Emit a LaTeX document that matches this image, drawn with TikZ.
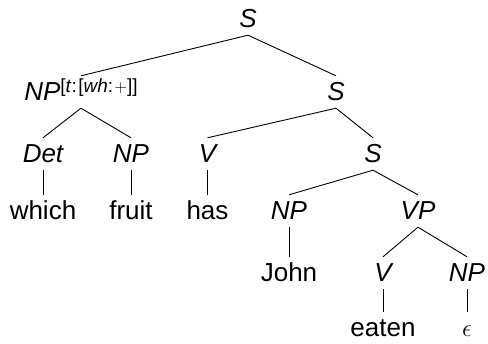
\documentclass[tikz,border=0pt]{standalone}
\usepackage{fontspec}
\setmainfont{Liberation Sans}
\begin{document}
\begin{tikzpicture}[x=1pt,y=-1pt,
  cat/.style={font=\fontsize{26}{30}\selectfont\itshape, anchor=base,
    text height=18pt, text depth=0pt, inner xsep=0pt, inner ysep=7pt},
  word/.style={cat, font=\fontsize{26}{30}\selectfont\upshape},
  edge/.style={draw, line width=0.9pt}]
\useasboundingbox (0,0) rectangle (488,344);

% categories and words, placed by baseline
\node[cat] (s0) at (248,28) {S};
\node[cat] (np1) at (81,101) {NP\raisebox{8pt}{\fontsize{19}{22}\selectfont\upshape[\textit{t}:\kern1.5pt[\textit{wh}:\kern1.5pt$+$]]}};
\node[cat] (s1) at (336,101) {S};
\node[cat] (det) at (43,163) {Det};
\node[cat] (np2) at (131,163) {NP};
\node[cat] (v2) at (207.5,163) {V};
\node[cat] (s2) at (373,163) {S};
\node[word] (which) at (43,220) {which};
\node[word] (fruit) at (131,220) {fruit};
\node[word] (has) at (207.5,220) {has};
\node[cat] (np3) at (289,220) {NP};
\node[cat] (vp) at (418,220) {VP};
\node[word] (john) at (289,282) {John};
\node[cat] (v3) at (383,282) {V};
\node[cat] (np4) at (467,282) {NP};
\node[word] (eaten) at (383,337) {eaten};
\node[word] (eps) at (467,337) {$\epsilon$};

% branches
\draw[edge] (s0.south) -- (np1.north);
\draw[edge] (s0.south) -- (s1.north);
\draw[edge] (np1.south) -- (det.north);
\draw[edge] (np1.south) -- (np2.north);
\draw[edge] (s1.south) -- (v2.north);
\draw[edge] (s1.south) -- (s2.north);
\draw[edge] (det.south) -- (which.north);
\draw[edge] (np2.south) -- (fruit.north);
\draw[edge] (v2.south) -- (has.north);
\draw[edge] (s2.south) -- (np3.north);
\draw[edge] (s2.south) -- (vp.north);
\draw[edge] (np3.south) -- (john.north);
\draw[edge] (vp.south) -- (v3.north);
\draw[edge] (vp.south) -- (np4.north);
\draw[edge] (v3.south) -- (eaten.north);
\draw[edge] (np4.south) -- (eps.north);
\end{tikzpicture}
\end{document}
